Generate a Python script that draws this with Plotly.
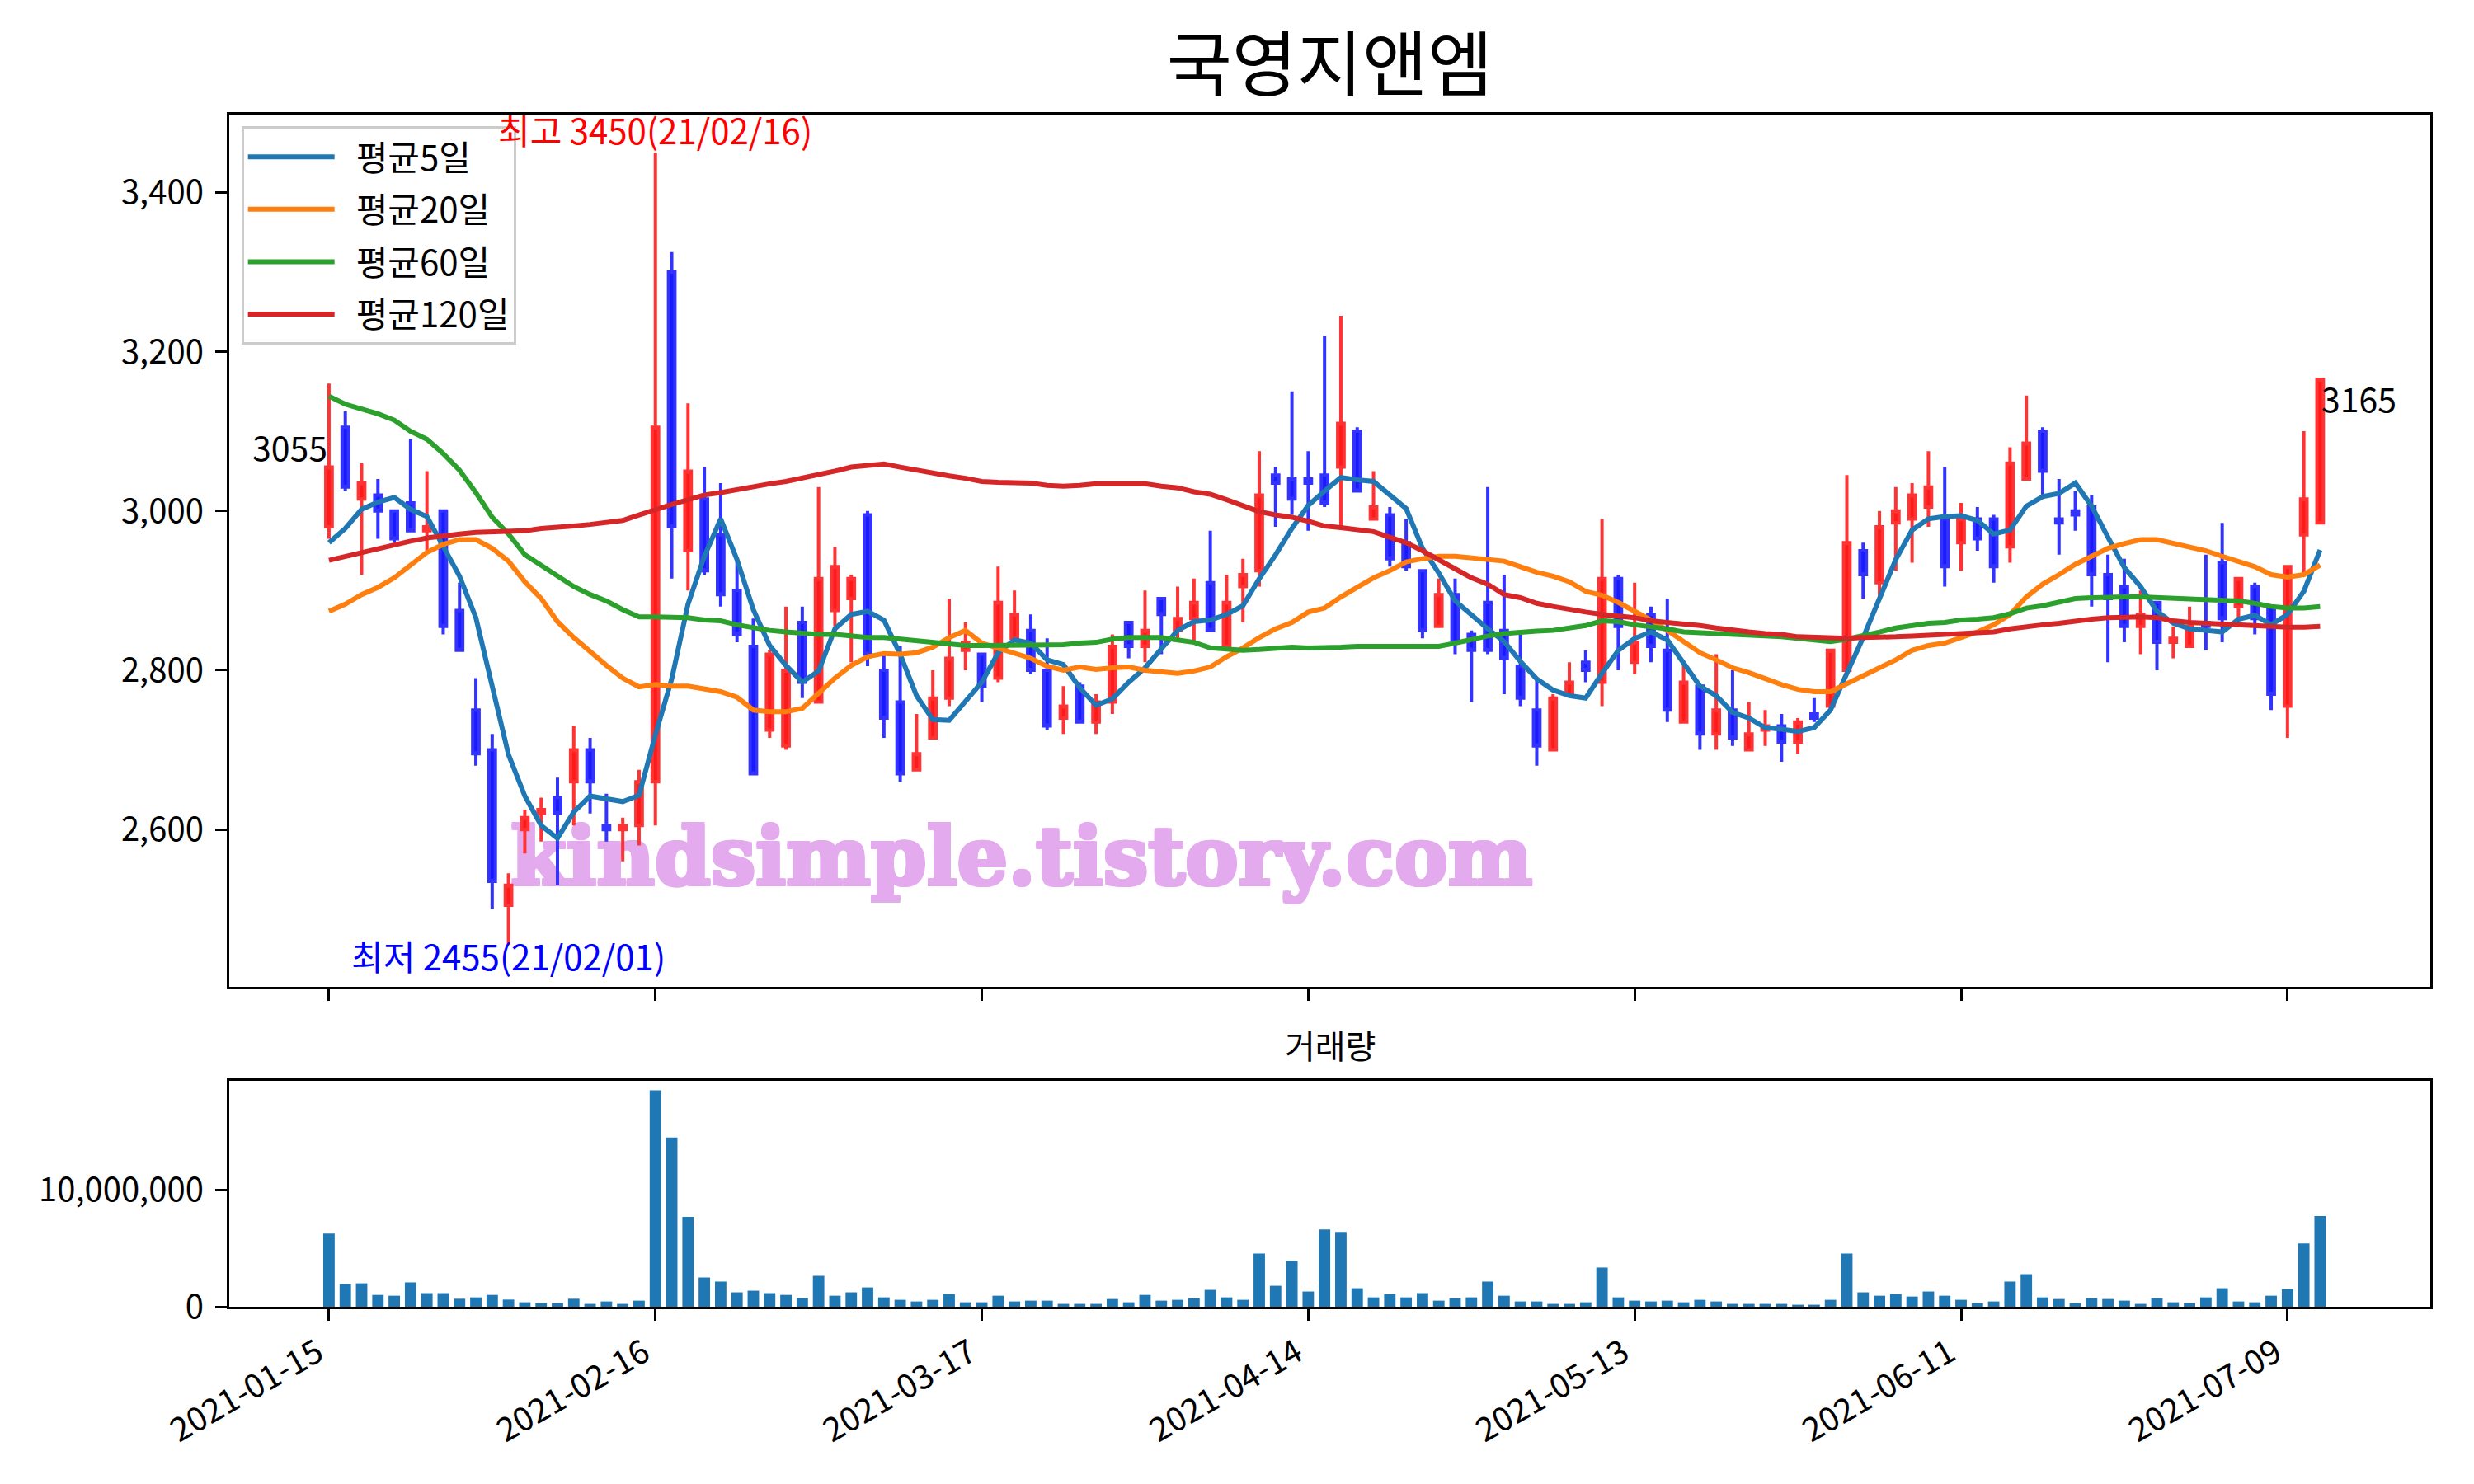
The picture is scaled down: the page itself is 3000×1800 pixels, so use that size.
import pandas as pd
import plotly.graph_objects as go

# ---------------------------------------------------------------------------
# data
# ---------------------------------------------------------------------------
stock_name = "국영지앤엠"
first_day = "2021-01-15"
last_day = "2021-07-13"
market_holidays = ["2021-02-11", "2021-02-12", "2021-03-01", "2021-05-05", "2021-05-19"]

open_ = [2980, 3105, 3015, 3020, 3000, 3010, 2975, 3000, 2875, 2750,
         2700, 2505, 2600, 2620, 2640, 2660, 2700, 2605, 2600, 2605,
         2660, 3300, 2950, 3015, 2970, 2900, 2830, 2725, 2705, 2860,
         2760, 2875, 2890, 2995, 2800, 2760, 2675, 2715, 2765, 2825,
         2820, 2790, 2840, 2850, 2800, 2740, 2780, 2735, 2760, 2860,
         2830, 2890, 2850, 2865, 2910, 2830, 2905, 2925, 3045, 3040,
         3040, 3045, 3055, 3100, 2990, 2995, 2960, 2925, 2855, 2895,
         2845, 2885, 2850, 2805, 2750, 2700, 2770, 2810, 2785, 2915,
         2810, 2870, 2825, 2735, 2780, 2720, 2750, 2700, 2725, 2730,
         2710, 2745, 2755, 2800, 2950, 2910, 2985, 2990, 3005, 2990,
         2960, 2990, 2990, 2955, 3040, 3100, 2990, 3000, 3005, 2920,
         2905, 2855, 2885, 2835, 2830, 2860, 2935, 2880, 2905, 2880,
         2755, 2970, 2985]
high = [3160, 3125, 3060, 3040, 3000, 3090, 3050, 3000, 2910, 2790,
        2720, 2545, 2625, 2640, 2665, 2730, 2715, 2645, 2615, 2675,
        3450, 3325, 3135, 3055, 3035, 2940, 2865, 2825, 2880, 2880,
        3030, 2955, 2920, 3000, 2820, 2830, 2745, 2800, 2890, 2860,
        2820, 2930, 2900, 2870, 2840, 2780, 2785, 2770, 2845, 2860,
        2900, 2890, 2905, 2915, 2975, 2920, 2940, 3075, 3055, 3150,
        3075, 3220, 3245, 3105, 3050, 3005, 2990, 2925, 2915, 2915,
        2850, 3030, 2920, 2845, 2790, 2770, 2810, 2825, 2990, 2920,
        2910, 2880, 2890, 2810, 2780, 2820, 2800, 2760, 2750, 2745,
        2740, 2765, 2825, 3045, 2960, 3000, 3030, 3035, 3075, 3055,
        3010, 3005, 2995, 3080, 3145, 3105, 3040, 3025, 3020, 2945,
        2940, 2900, 2885, 2855, 2880, 2945, 2985, 2915, 2910, 2880,
        2930, 3100, 3165]
low = [2965, 3025, 2920, 2965, 2960, 2975, 2950, 2845, 2825, 2680,
       2500, 2455, 2570, 2585, 2530, 2605, 2620, 2585, 2560, 2580,
       2605, 2915, 2900, 2920, 2880, 2835, 2670, 2715, 2700, 2765,
       2760, 2855, 2810, 2805, 2715, 2660, 2675, 2715, 2755, 2800,
       2760, 2785, 2840, 2795, 2725, 2720, 2735, 2720, 2745, 2815,
       2810, 2820, 2835, 2835, 2850, 2830, 2860, 2905, 2980, 2995,
       2975, 3005, 2980, 3025, 2990, 2930, 2925, 2840, 2855, 2820,
       2760, 2820, 2770, 2755, 2680, 2700, 2770, 2785, 2755, 2800,
       2795, 2810, 2735, 2735, 2700, 2700, 2705, 2700, 2705, 2685,
       2695, 2735, 2755, 2800, 2890, 2890, 2925, 2935, 2980, 2905,
       2925, 2950, 2910, 2935, 3040, 3020, 2945, 2975, 2880, 2810,
       2835, 2820, 2800, 2815, 2830, 2825, 2835, 2865, 2845, 2750,
       2715, 2920, 2985]
close = [3055, 3030, 3035, 3000, 2965, 2975, 2980, 2855, 2825, 2695,
         2535, 2530, 2615, 2625, 2620, 2700, 2660, 2600, 2605, 2660,
         3105, 2980, 3050, 2925, 2895, 2845, 2670, 2820, 2800, 2785,
         2915, 2930, 2915, 2820, 2740, 2670, 2695, 2765, 2815, 2835,
         2780, 2885, 2870, 2800, 2730, 2755, 2735, 2760, 2830, 2830,
         2850, 2870, 2865, 2885, 2850, 2885, 2920, 3020, 3035, 3015,
         3035, 3010, 3110, 3025, 3005, 2940, 2930, 2850, 2895, 2835,
         2825, 2825, 2815, 2765, 2705, 2765, 2785, 2800, 2915, 2855,
         2835, 2830, 2750, 2785, 2720, 2750, 2715, 2720, 2730, 2710,
         2735, 2740, 2825, 2960, 2920, 2980, 3000, 3020, 3030, 2930,
         2990, 2965, 2930, 3060, 3085, 3050, 2985, 2995, 2920, 2890,
         2855, 2870, 2835, 2840, 2855, 2855, 2865, 2915, 2865, 2770,
         2930, 3015, 3165]
volume = [6250000, 1930000, 2000000, 1010000, 940000, 2080000, 1160000, 1160000, 680000, 800000,
          1010000, 610000, 380000, 310000, 310000, 680000, 240000, 450000, 240000, 520000,
          18490000, 14460000, 7670000, 2500000, 2150000, 1230000, 1370000, 1160000, 1010000, 730000,
          2640000, 940000, 1230000, 1650000, 800000, 590000, 450000, 590000, 1080000, 380000,
          380000, 940000, 450000, 520000, 520000, 240000, 240000, 240000, 660000, 380000,
          1010000, 520000, 590000, 730000, 1440000, 800000, 590000, 4550000, 1790000, 3920000,
          1300000, 6600000, 6390000, 1580000, 800000, 1080000, 800000, 1160000, 520000, 730000,
          800000, 2150000, 940000, 450000, 450000, 240000, 240000, 380000, 3350000, 800000,
          520000, 450000, 520000, 380000, 590000, 450000, 240000, 240000, 240000, 240000,
          170000, 170000, 590000, 4550000, 1230000, 940000, 1080000, 870000, 1300000, 940000,
          590000, 310000, 450000, 2150000, 2780000, 800000, 660000, 310000, 730000, 660000,
          520000, 240000, 730000, 380000, 310000, 800000, 1580000, 450000, 380000, 940000,
          1510000, 5400000, 7740000]

# moving averages as drawn in the reference (they include history before the window)
ma5 = [2960, 2978, 3002, 3011, 3017, 3002, 2993, 2957, 2918, 2866,
       2781, 2694, 2642, 2605, 2589, 2622, 2642, 2638, 2635, 2643,
       2719, 2789, 2883, 2943, 2990, 2939, 2876, 2831, 2806, 2785,
       2799, 2852, 2870, 2874, 2863, 2820, 2768, 2738, 2737, 2761,
       2785, 2822, 2838, 2834, 2813, 2807, 2778, 2756, 2764, 2785,
       2803, 2827, 2850, 2861, 2863, 2870, 2881, 2915, 2945, 2978,
       3007, 3025, 3042, 3039, 3037, 3020, 3003, 2953, 2922, 2887,
       2869, 2852, 2836, 2811, 2789, 2775, 2768, 2765, 2796, 2825,
       2840, 2848, 2838, 2810, 2780, 2768, 2747, 2740, 2728, 2726,
       2723, 2728, 2750, 2796, 2841, 2890, 2939, 2976, 2990, 2993,
       2994, 2988, 2971, 2976, 3006, 3018, 3022, 3035, 3006, 2967,
       2929, 2905, 2874, 2859, 2852, 2850, 2848, 2864, 2869, 2857,
       2870, 2899, 2951]
ma20 = [2874, 2883, 2895, 2904, 2916, 2932, 2948, 2958, 2964, 2964,
        2953, 2937, 2911, 2890, 2861, 2841, 2823, 2806, 2790, 2779,
        2782, 2780, 2780, 2776, 2773, 2766, 2750, 2748, 2748, 2752,
        2771, 2790, 2806, 2817, 2821, 2820, 2822, 2829, 2841, 2850,
        2834, 2828, 2822, 2815, 2805, 2800, 2804, 2801, 2803, 2804,
        2800, 2798, 2796, 2799, 2804, 2817, 2828, 2841, 2852, 2860,
        2873, 2878, 2892, 2904, 2916, 2925, 2936, 2940, 2943, 2943,
        2941, 2939, 2937, 2930, 2923, 2918, 2911, 2899, 2894, 2885,
        2874, 2863, 2850, 2836, 2822, 2813, 2803, 2797, 2789, 2782,
        2776, 2773, 2773, 2783, 2793, 2804, 2813, 2825, 2831, 2834,
        2841, 2848, 2857, 2870, 2892, 2908, 2920, 2933, 2943, 2953,
        2959, 2964, 2964, 2959, 2955, 2950, 2943, 2937, 2930, 2920,
        2917, 2920, 2932]
ma60 = [3144, 3134, 3128, 3122, 3114, 3100, 3090, 3072, 3051, 3023,
        2992, 2971, 2945, 2932, 2918, 2905, 2895, 2887, 2876, 2867,
        2867, 2866, 2866, 2863, 2862, 2857, 2853, 2850, 2848, 2846,
        2845, 2845, 2843, 2841, 2841, 2839, 2836, 2834, 2832, 2831,
        2831, 2831, 2831, 2831, 2831, 2832, 2834, 2835, 2839, 2841,
        2841, 2841, 2838, 2835, 2828, 2826, 2825, 2826, 2827, 2829,
        2828, 2828, 2829, 2830, 2830, 2830, 2829, 2829, 2830, 2834,
        2839, 2843, 2846, 2848, 2849, 2850, 2853, 2856, 2862, 2861,
        2857, 2855, 2852, 2848, 2847, 2846, 2846, 2845, 2843, 2842,
        2840, 2838, 2836, 2839, 2843, 2848, 2853, 2856, 2859, 2860,
        2863, 2864, 2866, 2871, 2878, 2881, 2885, 2890, 2891, 2892,
        2892, 2892, 2891, 2890, 2890, 2889, 2888, 2887, 2884, 2880,
        2878, 2878, 2880]
ma120 = [2938, 2943, 2948, 2953, 2958, 2962, 2966, 2969, 2971, 2973,
         2974, 2974, 2975, 2978, 2979, 2981, 2983, 2985, 2988, 2995,
         3002, 3008, 3014, 3020, 3023, 3027, 3030, 3034, 3037, 3041,
         3045, 3050, 3055, 3057, 3059, 3055, 3051, 3048, 3044, 3041,
         3037, 3036, 3035, 3035, 3032, 3031, 3032, 3034, 3034, 3034,
         3034, 3031, 3029, 3024, 3021, 3014, 3006, 2999, 2995, 2992,
         2987, 2981, 2979, 2976, 2974, 2967, 2960, 2950, 2939, 2927,
         2916, 2908, 2895, 2891, 2884, 2880, 2876, 2873, 2870, 2868,
         2866, 2862, 2860, 2859, 2856, 2853, 2850, 2848, 2846, 2845,
         2842, 2841, 2840, 2840, 2841, 2841, 2842, 2843, 2844, 2845,
         2846, 2847, 2848, 2852, 2855, 2857, 2859, 2862, 2864, 2866,
         2867, 2867, 2866, 2862, 2860, 2859, 2857, 2857, 2856, 2855,
         2854, 2854, 2855]

tick_every = 20
watermark = "kindsimple.tistory.com"

# ---------------------------------------------------------------------------
# figure
# ---------------------------------------------------------------------------
days = pd.bdate_range(first_day, last_day, freq="C", holidays=market_holidays)
dates = [d.strftime("%Y-%m-%d") for d in days]
tick_dates = dates[::tick_every]

FONT = "Noto Sans CJK KR"
X_RANGE = [-6.11, 128.75]
AXIS = dict(showline=True, mirror=True, linecolor="black", linewidth=3.3,
            ticks="outside", ticklen=14, tickwidth=3.3, tickcolor="black",
            showgrid=False, zeroline=False, tickfont=dict(size=40, color="black"))
WM_COLOR = "#e4aaee"
# thicken the watermark strokes a little (the original face is a heavy display serif)
wm_shadow = ", ".join(f"{dx}px {dy}px 0 {WM_COLOR}"
                      for dx, dy in [(2, 0), (-2, 0), (0, 2), (0, -2),
                                     (2, 2), (-2, -2), (2, -2), (-2, 2)])

fig = go.Figure()
fig.add_trace(go.Candlestick(
    x=dates, open=open_, high=high, low=low, close=close,
    increasing=dict(line=dict(color="#ff3333", width=4), fillcolor="#ff1a1a"),
    decreasing=dict(line=dict(color="#3333ff", width=4), fillcolor="#1a1aff"),
    whiskerwidth=0, showlegend=False, hoverinfo="skip",
))

ma_series = [("평균5일", ma5, "#1f77b4"), ("평균20일", ma20, "#ff7f0e"),
             ("평균60일", ma60, "#2ca02c"), ("평균120일", ma120, "#d62728")]
for name, values, color in ma_series:
    # en-space widens the gap between the line sample and the label, as in matplotlib
    fig.add_trace(go.Scatter(x=dates, y=values, mode="lines", name="\u2002" + name,
                             legendgroup=name, line=dict(color=color, width=6)))

fig.add_trace(go.Bar(x=dates, y=volume, xaxis="x2", yaxis="y2",
                     marker=dict(color="#1f77b4", line=dict(width=0)),
                     showlegend=False))

i_hi = high.index(max(high))
i_lo = low.index(min(low))
annotations = [
    dict(x=dates[i_hi], y=high[i_hi], xref="x", yref="y", showarrow=False,
         text=f"최고 {high[i_hi]}({days[i_hi]:%y/%m/%d})", xanchor="center", yanchor="bottom",
         yshift=-4, font=dict(size=42, color="red")),
    dict(x=dates[i_lo], y=low[i_lo], xref="x", yref="y", showarrow=False,
         text=f"최저 {low[i_lo]}({days[i_lo]:%y/%m/%d})", xanchor="center", yanchor="top",
         yshift=20, font=dict(size=42, color="blue")),
    dict(x=dates[0], y=close[0], xref="x", yref="y", showarrow=False,
         text=str(close[0]), xanchor="right", yanchor="bottom", yshift=-6,
         font=dict(size=41, color="black")),
    dict(x=dates[-1], y=close[-1], xref="x", yref="y", showarrow=False,
         text=str(close[-1]), xanchor="left", yanchor="top", yshift=10,
         font=dict(size=41, color="black")),
    dict(x=0.5, y=0.2199, xref="paper", yref="paper", showarrow=False,
         text="거래량", xanchor="center", yanchor="middle",
         font=dict(size=40, color="black")),
]

fig.update_layout(
    width=3000, height=1800,
    margin=dict(l=270, r=61, t=131, b=223),
    paper_bgcolor="white", plot_bgcolor="white",
    font=dict(family=FONT, size=40, color="black"),
    title=dict(text=stock_name, x=0.5, xref="paper", y=1 - 72 / 1800, yref="container",
               xanchor="center", yanchor="middle", font=dict(size=86, color="black")),
    boxgap=0.44, bargap=0.3,
    xaxis=dict(AXIS, domain=[0, 1], anchor="y", matches="x2", type="category",
               range=X_RANGE, tickmode="array", tickvals=tick_dates,
               showticklabels=False, rangeslider=dict(visible=False)),
    yaxis=dict(AXIS, domain=[0.2683, 1], anchor="x", range=[2402.4, 3497.6],
               dtick=200, tickformat=",", ticklabelstandoff=6),
    xaxis2=dict(AXIS, domain=[0, 1], anchor="y2", type="category", range=X_RANGE,
                tickmode="array", tickvals=tick_dates, ticktext=tick_dates,
                tickangle=-30, ticklabelshift=-14),
    yaxis2=dict(AXIS, domain=[0, 0.1895], anchor="x2", range=[0, 19.3e6],
                dtick=1e7, tickformat=",d", ticklabelstandoff=6),
    legend=dict(x=0.0055, y=0.99, xanchor="left", yanchor="top",
                bgcolor="rgba(255,255,255,0.8)", bordercolor="#cccccc", borderwidth=3,
                font=dict(size=42), itemwidth=105, tracegroupgap=6),
    annotations=annotations,
    shapes=[dict(type="rect", xref="x domain", yref="y domain",
                 x0=0.05, x1=0.67, y0=0.10, y1=0.21, layer="below",
                 line=dict(width=0), fillcolor="rgba(0,0,0,0)",
                 label=dict(text=watermark, textposition="middle center",
                            font=dict(family="DejaVu Serif", size=97, weight="bold",
                                      color=WM_COLOR, shadow=wm_shadow)))],
)

fig.write_html("out.html")
